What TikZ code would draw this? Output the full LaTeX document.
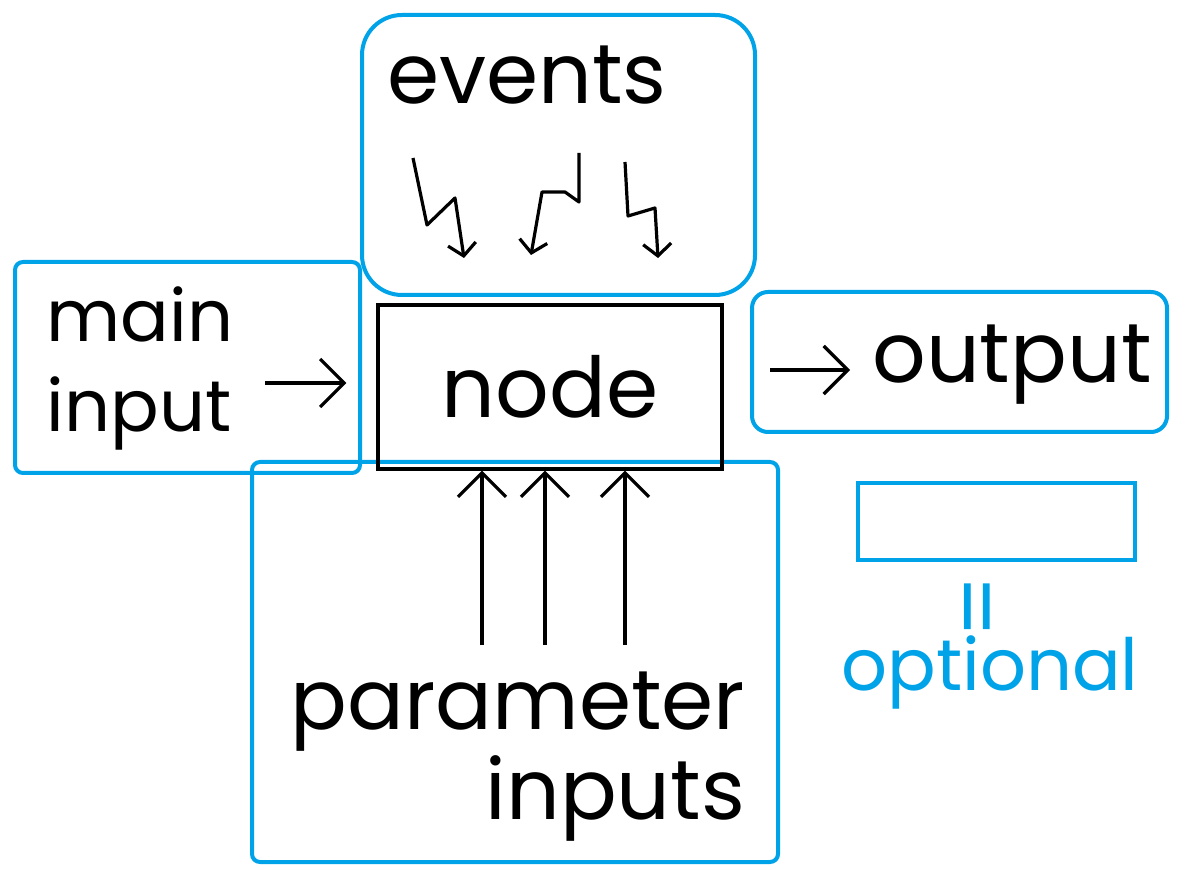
\documentclass[tikz,border=0pt]{standalone}
\usepackage{fontspec}
\setmainfont{Poppins}
\usetikzlibrary{arrows.meta,positioning}
\definecolor{sketchblue}{RGB}{0,162,232}

\begin{document}
\begin{tikzpicture}[x=0.5pt, y=-0.5pt,
  grp/.style={draw=sketchblue, line width=2pt},
  txt/.style={inner sep=1pt, font=\fontsize{42}{45}\selectfont},
  arr/.style={line width=1.6pt, -{Straight Barb[length=12pt,width=24pt]}},
  bolt/.style={line width=1.6pt, line join=round, -{Straight Barb[length=6pt,width=14pt]}}]
\useasboundingbox (0,0) rectangle (1186,870);

% groups
\draw[grp, rounded corners=20pt] (362,15) rectangle (755,295);
\draw[grp, rounded corners=4pt] (15,262) rectangle (360,473);
\draw[grp, rounded corners=8pt] (752,292) rectangle (1167,432);
\draw[grp, rounded corners=4pt] (252,462) rectangle (778,862);
\draw[grp] (858,483) rectangle (1135,560);

% texts
\node[draw, line width=1.6pt, minimum width=172pt, minimum height=82pt, txt] (nd) at (550,387) {node};
\node[txt] (ev) at (527,75) {events};
\node[txt, font=\fontsize{36}{45}\selectfont, align=left] (mainin) at (140,368) {main\\input};
\node[txt] (out) at (1012,365) {output};
\node[txt, align=right] (par) at (518,757) {parameter\\inputs};
\node[txt, text=sketchblue, font=\fontsize{36}{40}\selectfont] (opt) at (990,672) {optional};
\node[text=sketchblue, rotate=90, inner sep=0pt, font=\fontsize{44}{46}\selectfont] (eq) at (987,607) {=};

% arrows
\coordinate (mi-a) at (265,383);
\draw[arr, shorten >=15pt] (mi-a) -- (mi-a -| nd.west);
\coordinate (out-a) at (770,370);
\draw[arr, shorten >=10pt] (out-a) -- (out-a -| out.west);
\foreach \x in {482,545,625} {
  \coordinate (p\x) at (\x,645);
  \draw[arr] (p\x) -- (p\x |- nd.south);
}

% events
\draw[bolt] (413,158) -- (427,225) -- (455,198) -- (464,258);
\draw[bolt] (579,153) -- (579,202) -- (565,192) -- (542,192) -- (531,255);
\draw[bolt] (625,162) -- (628,216) -- (655,208) -- (658,258);
\end{tikzpicture}
\end{document}
